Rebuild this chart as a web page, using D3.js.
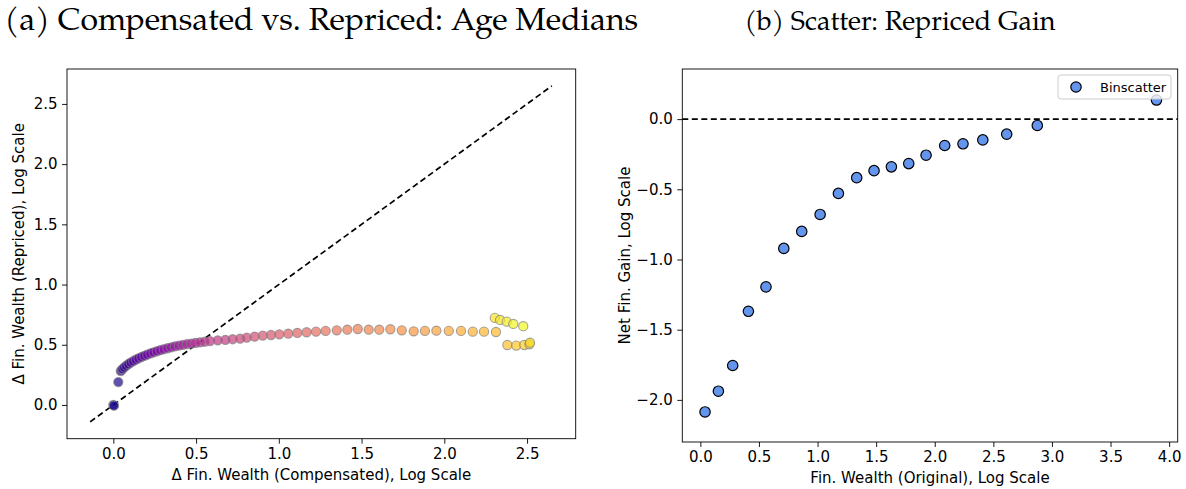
<!DOCTYPE html>
<html>
<head>
<meta charset="utf-8">
<script src="https://cdn.jsdelivr.net/npm/d3@7"></script>
<style>
  body { margin: 0; background: #fff; }
  svg { display: block; }
  .tick text { font-family: "DejaVu Sans", sans-serif; font-size: 15px; fill: #000; }
  .tick line { stroke: #000; stroke-width: 0.9; }
  .domain { display: none; }
  .lbl { font-family: "DejaVu Sans", sans-serif; font-size: 15px; }
  .ttl { font-family: 'TeX Gyre Pagella', 'Palatino Linotype', 'DejaVu Serif', serif; }
</style>
</head>
<body>
<div id="chart"></div>
<script>
// Panel (a): age medians, compensated vs repriced (ordered young -> old)
const compX = [
  0.0, 0.004, 0.03,
  0.045, 0.055, 0.066, 0.078, 0.091, 0.105, 0.12, 0.136, 0.152, 0.169, 0.187, 0.205, 0.224, 0.243,
  0.263, 0.284, 0.305, 0.327, 0.349, 0.372, 0.396, 0.42, 0.445, 0.47, 0.496, 0.523, 0.551, 0.584,
  0.631, 0.677, 0.721, 0.766, 0.806, 0.854, 0.903, 0.953, 1.003, 1.057, 1.112, 1.168, 1.225, 1.283,
  1.35, 1.414, 1.477, 1.543, 1.607, 1.674, 1.743, 1.815, 1.883, 1.952, 2.027, 2.101, 2.172, 2.24, 2.312,
  2.381, 2.435, 2.483, 2.514, 2.518,
  2.305, 2.337, 2.377, 2.417, 2.477
];
const repY = [
  0.0, -0.006, 0.19,
  0.282, 0.298, 0.312, 0.326, 0.339, 0.352, 0.364, 0.376, 0.387, 0.398, 0.408, 0.418, 0.428, 0.437,
  0.446, 0.455, 0.463, 0.471, 0.479, 0.486, 0.493, 0.499, 0.505, 0.51, 0.515, 0.52, 0.525, 0.531,
  0.537, 0.54, 0.546, 0.551, 0.559, 0.567, 0.576, 0.581, 0.587, 0.592, 0.598, 0.604, 0.609, 0.615,
  0.62, 0.625, 0.631, 0.625, 0.625, 0.629, 0.62, 0.612, 0.615, 0.617, 0.615, 0.615, 0.609, 0.609, 0.606,
  0.498, 0.493, 0.498, 0.504, 0.517,
  0.723, 0.706, 0.692, 0.673, 0.654
];
const diagEnds = [-0.14, 2.65];

// Panel (b): binscatter of repriced gain
const binX = [0.04, 0.154, 0.276, 0.41, 0.56, 0.712, 0.865, 1.022, 1.178, 1.334, 1.482, 1.63, 1.778, 1.926, 2.085, 2.241, 2.41, 2.614, 2.875, 3.892];
const binY = [-2.086, -1.938, -1.755, -1.369, -1.195, -0.921, -0.8, -0.679, -0.529, -0.417, -0.367, -0.34, -0.317, -0.257, -0.188, -0.176, -0.148, -0.107, -0.045, 0.136];

// Tick labels
const leftXTicks = [0, 0.5, 1, 1.5, 2, 2.5];
const leftYTicks = [0, 0.5, 1, 1.5, 2, 2.5];
const rightXTicks = [0, 0.5, 1, 1.5, 2, 2.5, 3, 3.5, 4];
const rightYTicks = [-2, -1.5, -1, -0.5, 0];

const W = 1186, H = 489;
const fmt = d => d3.format(".1f")(d).replace("-", "\u2212");

const svg = d3.select("#chart").append("svg")
  .attr("width", W).attr("height", H);

// ---------- panel (a) ----------
const L = { left: 67, right: 575.7, top: 69, bottom: 438.7 };
const xL = d3.scaleLinear().domain([-0.28, 2.794]).range([L.left, L.right]);
const yL = d3.scaleLinear().domain([-0.28, 2.79]).range([L.bottom, L.top]);

svg.append("g")
  .attr("transform", `translate(0,${L.bottom})`)
  .call(d3.axisBottom(xL).tickValues(leftXTicks).tickFormat(fmt).tickSize(5).tickPadding(4.5));
svg.append("g")
  .attr("transform", `translate(${L.left},0)`)
  .call(d3.axisLeft(yL).tickValues(leftYTicks).tickFormat(fmt).tickSize(5).tickPadding(4.5));

svg.append("line")
  .attr("x1", xL(diagEnds[0])).attr("y1", yL(diagEnds[0]))
  .attr("x2", xL(diagEnds[1])).attr("y2", yL(diagEnds[1]))
  .attr("stroke", "#000").attr("stroke-width", 1.7)
  .attr("stroke-dasharray", "6,3.5");

const n = compX.length;
svg.append("g").selectAll("circle")
  .data(compX)
  .enter()
  .append("circle")
  .attr("cx", d => xL(d))
  .attr("cy", (d, i) => yL(repY[i]))
  .attr("r", 4.6)
  .attr("fill", (d, i) => d3.interpolatePlasma(i / (n - 1)))
  .attr("fill-opacity", 0.7)
  .attr("stroke", "#808080")
  .attr("stroke-opacity", 0.7)
  .attr("stroke-width", 1.1);

svg.append("rect")
  .attr("x", L.left).attr("y", L.top)
  .attr("width", L.right - L.left).attr("height", L.bottom - L.top)
  .attr("fill", "none").attr("stroke", "#000").attr("stroke-width", 0.9);

svg.append("text")
  .attr("class", "lbl")
  .attr("x", (L.left + L.right) / 2).attr("y", 480)
  .attr("text-anchor", "middle")
  .text("\u0394 Fin. Wealth (Compensated), Log Scale");

svg.append("text")
  .attr("class", "lbl")
  .attr("transform", `translate(24,${(L.top + L.bottom) / 2}) rotate(-90)`)
  .attr("text-anchor", "middle")
  .text("\u0394 Fin. Wealth (Repriced), Log Scale");

svg.append("text")
  .attr("class", "ttl")
  .attr("x", (L.left + L.right) / 2).attr("y", 30)
  .attr("text-anchor", "middle")
  .style("font-size", "32px")
  .text("(a) Compensated vs. Repriced: Age Medians");

// ---------- panel (b) ----------
const R = { left: 682.3, right: 1177.7, top: 69, bottom: 442 };
const xR = d3.scaleLinear().domain([-0.154, 4.073]).range([R.left, R.right]);
const yR = d3.scaleLinear().domain([-2.30, 0.357]).range([R.bottom, R.top]);

svg.append("g")
  .attr("transform", `translate(0,${R.bottom})`)
  .call(d3.axisBottom(xR).tickValues(rightXTicks).tickFormat(fmt).tickSize(5).tickPadding(4.5));
svg.append("g")
  .attr("transform", `translate(${R.left},0)`)
  .call(d3.axisLeft(yR).tickValues(rightYTicks).tickFormat(fmt).tickSize(5).tickPadding(4.5));

svg.append("line")
  .attr("x1", R.left).attr("x2", R.right)
  .attr("y1", yR(0)).attr("y2", yR(0))
  .attr("stroke", "#000").attr("stroke-width", 1.7)
  .attr("stroke-dasharray", "6,3.5");

svg.append("g").selectAll("circle")
  .data(binX)
  .enter()
  .append("circle")
  .attr("cx", d => xR(d))
  .attr("cy", (d, i) => yR(binY[i]))
  .attr("r", 5.2)
  .attr("fill", "#6495ED")
  .attr("stroke", "#000")
  .attr("stroke-width", 1.2);

// legend
const leg = svg.append("g").attr("transform", "translate(1058,75)");
leg.append("rect")
  .attr("width", 113).attr("height", 24).attr("rx", 3)
  .attr("fill", "#fff").attr("fill-opacity", 0.8)
  .attr("stroke", "#ccc").attr("stroke-width", 1);
leg.append("circle")
  .attr("cx", 18).attr("cy", 12).attr("r", 5.2)
  .attr("fill", "#6495ED").attr("stroke", "#000").attr("stroke-width", 1.2);
leg.append("text")
  .attr("x", 42).attr("y", 16.5)
  .style("font-family", "DejaVu Sans, sans-serif").style("font-size", "13px")
  .text("Binscatter");

svg.append("rect")
  .attr("x", R.left).attr("y", R.top)
  .attr("width", R.right - R.left).attr("height", R.bottom - R.top)
  .attr("fill", "none").attr("stroke", "#000").attr("stroke-width", 0.9);

svg.append("text")
  .attr("class", "lbl")
  .attr("x", (R.left + R.right) / 2).attr("y", 483)
  .attr("text-anchor", "middle")
  .text("Fin. Wealth (Original), Log Scale");

svg.append("text")
  .attr("class", "lbl")
  .attr("transform", `translate(630,${(R.top + R.bottom) / 2}) rotate(-90)`)
  .attr("text-anchor", "middle")
  .text("Net Fin. Gain, Log Scale");

svg.append("text")
  .attr("class", "ttl")
  .attr("x", 900).attr("y", 30)
  .attr("text-anchor", "middle")
  .style("font-size", "27px")
  .text("(b) Scatter: Repriced Gain");
</script>
</body>
</html>
